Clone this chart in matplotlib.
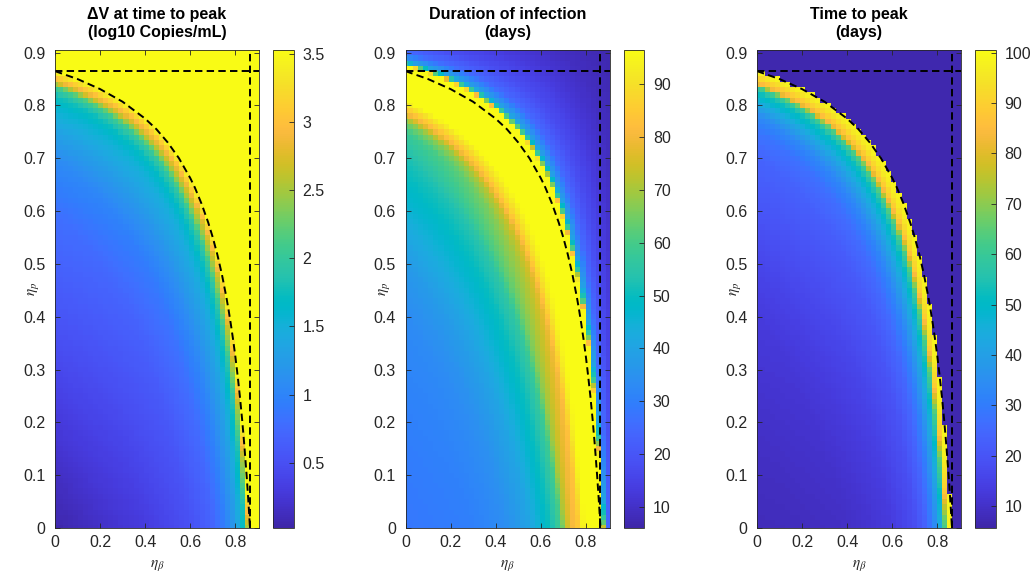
import numpy as np
import matplotlib
matplotlib.use("Agg")
import matplotlib.pyplot as plt
from matplotlib.colors import LinearSegmentedColormap
from matplotlib.ticker import FormatStrFormatter

# ---------------- data ----------------
# parameter grid (efficacies)
eta_beta = np.linspace(0, 0.9, 41)
eta_p = np.linspace(0, 0.9, 91)

# threshold efficacy (R_eff = 1), dashed lines
threshold = 0.865
curve_eta_beta = [0.0, 0.1, 0.2, 0.3, 0.4, 0.45, 0.5, 0.55, 0.6, 0.62, 0.65, 0.68, 0.7,
                  0.72, 0.74, 0.76, 0.77, 0.78, 0.79, 0.8, 0.81, 0.82, 0.83, 0.84,
                  0.85, 0.855, 0.86, 0.865]
curve_eta_p = [0.865, 0.85, 0.831, 0.807, 0.775, 0.755, 0.73, 0.70, 0.6625, 0.645, 0.614,
               0.578, 0.55, 0.518, 0.481, 0.4375, 0.413, 0.386, 0.357, 0.325, 0.289,
               0.25, 0.206, 0.156, 0.10, 0.069, 0.036, 0.0]

# values read along the panel edges, versus combined efficacy q = 1-(1-eta_beta)(1-eta_p)
# Panel 1: Delta V at time to peak (log10 copies/mL)
dv_q_left = [0.0, 0.1, 0.2, 0.3, 0.4, 0.5, 0.6, 0.7, 0.75, 0.8, 0.82, 0.835, 0.845, 0.855, 0.8649, 0.8651, 1.0]
dv_left = [0.06, 0.15, 0.28, 0.42, 0.55, 0.68, 0.82, 1.08, 1.32, 1.62, 1.8, 2.15, 2.8, 3.2, 3.5, 3.6, 3.6]
dv_q_bottom = [0.0, 0.2, 0.4, 0.6, 0.7, 0.75, 0.8, 0.82, 0.84, 0.855, 0.8649, 0.8651, 1.0]
dv_bottom = [0.03, 0.17, 0.3, 0.5, 0.7, 0.92, 1.25, 1.48, 1.8, 2.5, 3.5, 3.6, 3.6]

# Panel 2: duration of infection (days)
dur_q_left = [0.0, 0.2, 0.4, 0.5, 0.6, 0.7, 0.75, 0.77, 0.785, 0.8, 0.81, 0.8649,
              0.875, 0.879, 0.884, 0.9, 0.92, 0.95, 0.97, 1.0]
dur_left = [28, 30, 33, 37, 45, 52, 58, 66, 80, 90, 97, 97,
            96, 60, 40, 25, 18, 12, 9, 6]
dur_q_bottom = [0.0, 0.3, 0.45, 0.55, 0.6, 0.65, 0.69, 0.71, 0.74, 0.77, 0.79, 0.8, 0.8649,
                0.875, 0.879, 0.884, 0.9, 0.92, 0.95, 0.97, 1.0]
dur_bottom = [28, 30, 34, 40, 46, 52, 60, 72, 80, 85, 95, 97, 97,
              96, 60, 40, 25, 18, 12, 9, 6]

# Panel 3: time to peak (days)
ttp_q_left = [0.0, 0.2, 0.4, 0.5, 0.6, 0.7, 0.75, 0.78, 0.8, 0.815, 0.825, 0.835, 0.84,
              0.85, 0.86, 0.8649, 0.8651, 1.0]
ttp_left = [8, 10, 13, 16, 20, 24, 28, 34, 42, 49, 53, 63, 82,
            90, 97, 99, 6.5, 6.5]
ttp_q_bottom = [0.0, 0.2, 0.4, 0.5, 0.6, 0.7, 0.75, 0.78, 0.8, 0.82, 0.835, 0.845, 0.855,
                0.8649, 0.8651, 1.0]
ttp_bottom = [8, 8.5, 9.5, 11, 13, 18, 24, 31, 38, 48, 65, 90, 98,
              99, 6.5, 6.5]

titles = ["\u0394V at time to peak\n(log10 Copies/mL)",
          "Duration of infection\n(days)",
          "Time to peak\n(days)"]
clims = [(0.02, 3.53), (6.0, 96.5), (5.7, 100.5)]
cbar_ticks = [[0.5, 1, 1.5, 2, 2.5, 3, 3.5],
              [10, 20, 30, 40, 50, 60, 70, 80, 90],
              [10, 20, 30, 40, 50, 60, 70, 80, 90, 100]]
x_ticks = [0, 0.2, 0.4, 0.6, 0.8]
y_ticks = [0, 0.1, 0.2, 0.3, 0.4, 0.5, 0.6, 0.7, 0.8, 0.9]

parula64 = [
    [0.2422, 0.1504, 0.6603], [0.2504, 0.1650, 0.7076], [0.2578, 0.1818, 0.7511], [0.2647, 0.1978, 0.7952],
    [0.2706, 0.2147, 0.8364], [0.2751, 0.2342, 0.8710], [0.2783, 0.2559, 0.8991], [0.2803, 0.2782, 0.9221],
    [0.2813, 0.3006, 0.9414], [0.2810, 0.3228, 0.9579], [0.2795, 0.3447, 0.9717], [0.2760, 0.3667, 0.9829],
    [0.2699, 0.3892, 0.9906], [0.2602, 0.4123, 0.9952], [0.2440, 0.4358, 0.9988], [0.2206, 0.4603, 0.9973],
    [0.1963, 0.4847, 0.9892], [0.1834, 0.5074, 0.9798], [0.1786, 0.5289, 0.9682], [0.1764, 0.5499, 0.9520],
    [0.1687, 0.5703, 0.9359], [0.1540, 0.5902, 0.9218], [0.1460, 0.6091, 0.9079], [0.1380, 0.6276, 0.8973],
    [0.1248, 0.6459, 0.8883], [0.1113, 0.6635, 0.8763], [0.0952, 0.6798, 0.8598], [0.0689, 0.6948, 0.8394],
    [0.0297, 0.7082, 0.8163], [0.0036, 0.7203, 0.7917], [0.0067, 0.7312, 0.7660], [0.0433, 0.7411, 0.7394],
    [0.0964, 0.7500, 0.7120], [0.1408, 0.7584, 0.6842], [0.1717, 0.7670, 0.6554], [0.1938, 0.7758, 0.6251],
    [0.2161, 0.7843, 0.5923], [0.2470, 0.7918, 0.5567], [0.2906, 0.7973, 0.5188], [0.3406, 0.8008, 0.4789],
    [0.3909, 0.8029, 0.4354], [0.4456, 0.8024, 0.3909], [0.5044, 0.7993, 0.3480], [0.5616, 0.7942, 0.3045],
    [0.6174, 0.7876, 0.2612], [0.6720, 0.7793, 0.2227], [0.7242, 0.7698, 0.1910], [0.7738, 0.7598, 0.1646],
    [0.8203, 0.7498, 0.1535], [0.8634, 0.7406, 0.1596], [0.9035, 0.7330, 0.1774], [0.9393, 0.7288, 0.2100],
    [0.9728, 0.7298, 0.2394], [0.9956, 0.7434, 0.2371], [0.9970, 0.7659, 0.2199], [0.9952, 0.7893, 0.2028],
    [0.9892, 0.8136, 0.1885], [0.9786, 0.8386, 0.1766], [0.9676, 0.8639, 0.1643], [0.9610, 0.8890, 0.1537],
    [0.9597, 0.9135, 0.1423], [0.9628, 0.9373, 0.1265], [0.9691, 0.9606, 0.1064], [0.9769, 0.9839, 0.0805]]
parula = LinearSegmentedColormap.from_list("parula", parula64, N=256)

# ---------------- build grids from the edge profiles ----------------
EB, EP = np.meshgrid(eta_beta, eta_p)
S = (1 - EB) * (1 - EP)
Q = 1 - S
with np.errstate(divide="ignore", invalid="ignore"):
    W_p = np.where(S < 1, np.log(1 - EP) / np.log(S), 0.5)


def field(qL, vL, qB, vB):
    return W_p * np.interp(Q, qL, vL) + (1 - W_p) * np.interp(Q, qB, vB)


fields = [field(dv_q_left, dv_left, dv_q_bottom, dv_bottom),
          field(dur_q_left, dur_left, dur_q_bottom, dur_bottom),
          field(ttp_q_left, ttp_left, ttp_q_bottom, ttp_bottom)]

# ---------------- figure ----------------
plt.rcParams["font.family"] = ["Liberation Sans", "DejaVu Sans"]
plt.rcParams["mathtext.fontset"] = "stix"
W, H = 1031, 580
fig = plt.figure(figsize=(W / 100, H / 100), dpi=100)

gray = (0.15, 0.15, 0.15)
lefts = [55, 405.5, 757]
top_px, bot_px = 50, 528
ax_w = 204

for i in range(3):
    L = lefts[i]
    ax = fig.add_axes([L / W, 1 - bot_px / H, ax_w / W, (bot_px - top_px) / H])
    cax = fig.add_axes([(L + 218) / W, 1 - bot_px / H, 21 / W, (bot_px - top_px) / H])
    vmin, vmax = clims[i]
    mesh = ax.pcolormesh(eta_beta, eta_p, fields[i], shading="nearest", cmap=parula,
                         vmin=vmin, vmax=vmax, rasterized=True)
    ax.set_xlim(0, 0.905)
    ax.set_ylim(0, 0.905)
    ax.plot(curve_eta_beta, curve_eta_p, color="k", lw=1.4, dashes=(3.8, 2.2))
    ax.axhline(threshold, color="k", lw=1.4, dashes=(3.8, 2.2))
    ax.axvline(threshold, color="k", lw=1.4, dashes=(3.8, 2.2))
    ax.set_xticks(x_ticks)
    ax.set_yticks(y_ticks)
    ax.xaxis.set_major_formatter(FormatStrFormatter("%g"))
    ax.yaxis.set_major_formatter(FormatStrFormatter("%g"))
    ax.tick_params(direction="in", top=True, right=True, length=3.5, width=0.6,
                   labelsize=11.5, colors=gray, labelcolor=gray)
    ax.tick_params(axis="y", pad=7)
    ax.tick_params(axis="x", pad=5)
    for sp in ax.spines.values():
        sp.set_color(gray)
        sp.set_linewidth(0.6)
    ax.set_xlabel(r"$\eta_\beta$", fontsize=11, color=gray, va="center")
    ax.set_ylabel(r"$\eta_p$", fontsize=11, color=gray, va="center")
    ax.xaxis.set_label_coords(0.5, -0.078)
    ax.yaxis.set_label_coords(-0.105, 0.5)
    ax.set_title(titles[i], fontsize=11.5, fontweight="bold", pad=9, linespacing=1.3)

    cb = fig.colorbar(mesh, cax=cax)
    cb.set_ticks(cbar_ticks[i])
    cb.ax.yaxis.set_major_formatter(FormatStrFormatter("%g"))
    cb.ax.tick_params(direction="in", length=3.5, width=0.6, labelsize=11.5,
                      colors=gray, labelcolor=gray, pad=6)
    cb.outline.set_edgecolor(gray)
    cb.outline.set_linewidth(0.6)

fig.savefig("out.png", dpi=100)
